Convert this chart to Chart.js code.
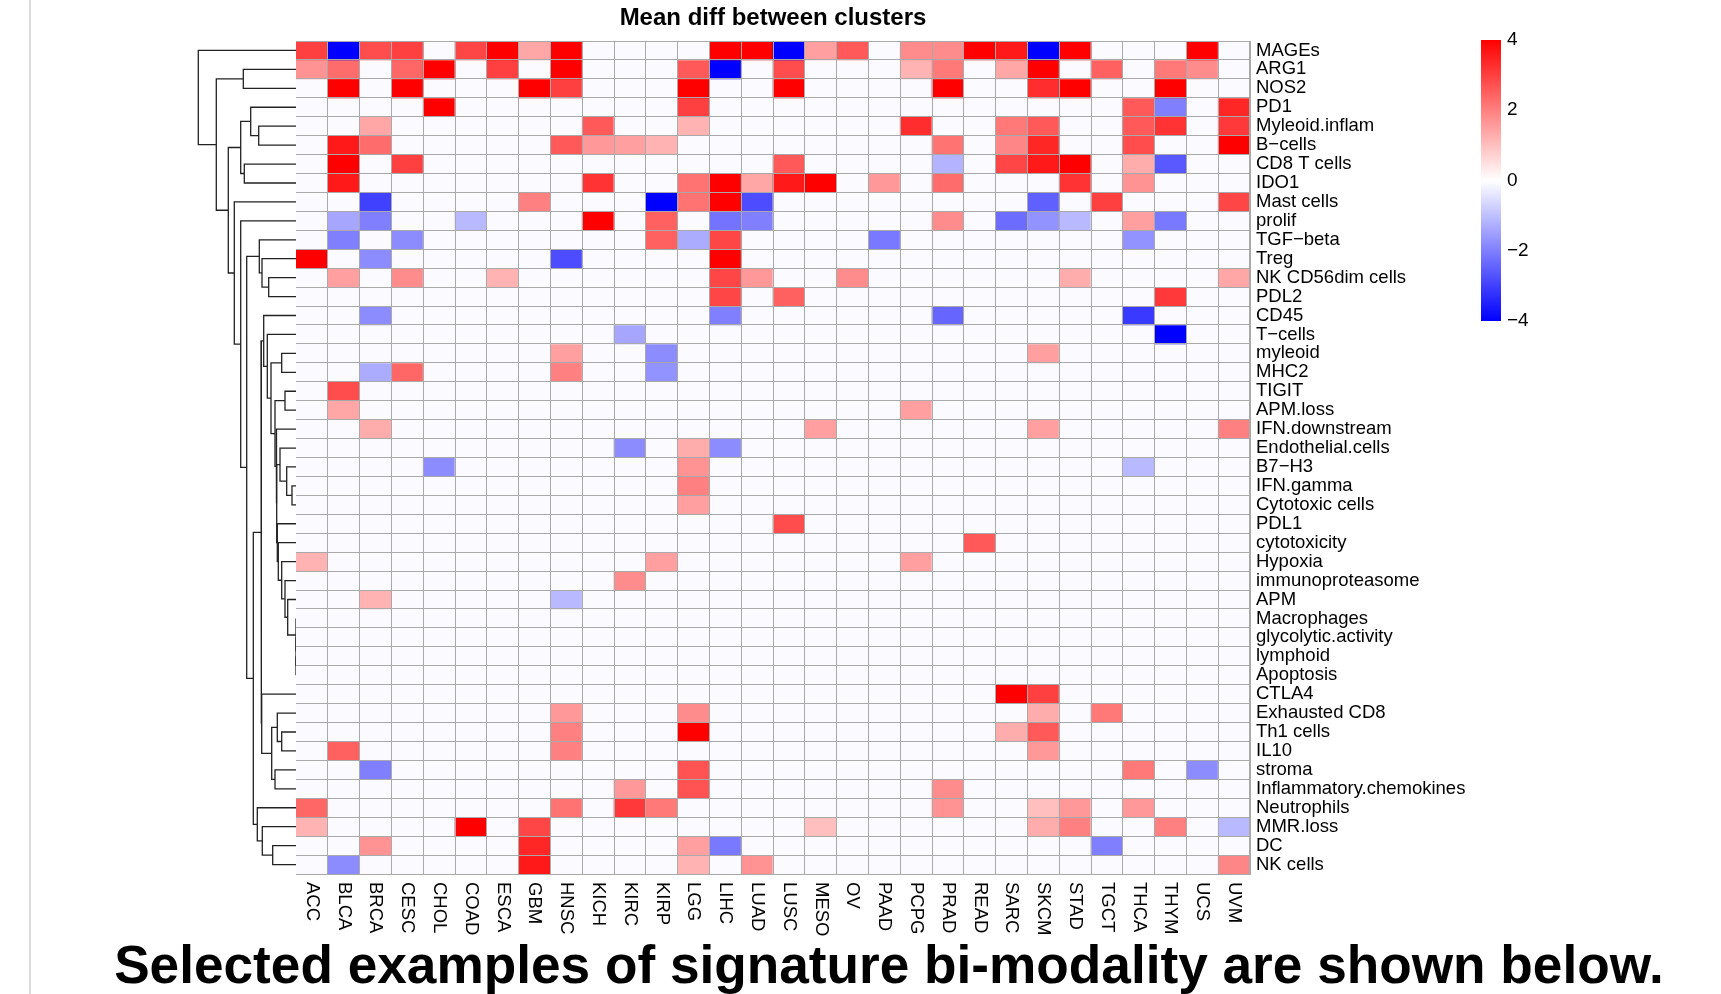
<!DOCTYPE html>
<html>
<head>
<meta charset="utf-8">
<title>Mean diff between clusters</title>
<script src="https://cdn.jsdelivr.net/npm/chart.js@4.4.1/dist/chart.umd.min.js"></script>
<style>
  body { margin: 0; background: #fff; width: 1721px; height: 994px; position: relative; overflow: hidden; }
  canvas { position: absolute; }
  #pageRule { position: absolute; left: 29px; top: 0; width: 2px; height: 994px; background: #dcdcdc; }
  #caption {
    position: absolute; left: 0; top: 938px; width: 1778px; text-align: center;
    font: bold 53.2px "Liberation Sans", Arial, sans-serif; line-height: 53px; color: #000; white-space: nowrap;
  }
</style>
</head>
<body>
<div id="pageRule"></div>
<canvas id="dendro" width="108" height="833" style="left:190px;top:41px"></canvas>
<canvas id="heatmap" width="1204" height="944" style="left:296px;top:0px"></canvas>
<canvas id="scaleBar" width="70" height="301" style="left:1481px;top:30px"></canvas>
<div id="caption">Selected examples of signature bi-modality are shown below.</div>

<script>
// Columns (cancer types)
const cancerTypes = ['ACC', 'BLCA', 'BRCA', 'CESC', 'CHOL', 'COAD', 'ESCA', 'GBM', 'HNSC', 'KICH',
  'KIRC', 'KIRP', 'LGG', 'LIHC', 'LUAD', 'LUSC', 'MESO', 'OV', 'PAAD', 'PCPG',
  'PRAD', 'READ', 'SARC', 'SKCM', 'STAD', 'TGCT', 'THCA', 'THYM', 'UCS', 'UVM'];

// Rows (signatures), in dendrogram order
const signatures = ['MAGEs', 'ARG1', 'NOS2', 'PD1', 'Myleoid.inflam', 'B\u2212cells', 'CD8 T cells', 'IDO1',
  'Mast cells', 'prolif', 'TGF\u2212beta', 'Treg', 'NK CD56dim cells', 'PDL2', 'CD45', 'T\u2212cells',
  'myleoid', 'MHC2', 'TIGIT', 'APM.loss', 'IFN.downstream', 'Endothelial.cells', 'B7\u2212H3', 'IFN.gamma',
  'Cytotoxic cells', 'PDL1', 'cytotoxicity', 'Hypoxia', 'immunoproteasome', 'APM', 'Macrophages',
  'glycolytic.activity', 'lymphoid', 'Apoptosis', 'CTLA4', 'Exhausted CD8', 'Th1 cells', 'IL10', 'stroma',
  'Inflammatory.chemokines', 'Neutrophils', 'MMR.loss', 'DC', 'NK cells'];

// Mean difference per signature (row) and cancer type (column)
const diffValues = [
  [3, -4, 2.8, 3, 0, 2.9, 4, 1.4, 4, 0, 0, 0, 0, 4, 4, -4, 1.5, 2.6, 0, 1.8, 1.8, 4, 3.6, -4, 4, 0, 0, 0, 4, 0],
  [1.7, 2.3, 0, 2.4, 4, 0, 3, 0, 4, 0, 0, 0, 2.6, -4, 0, 2.8, 0, 0, 0, 1.2, 2.1, 0, 1.4, 4, 0, 2.5, 0, 2.1, 1.8, 0],
  [0, 4, 0, 4, 0, 0, 0, 4, 3, 0, 0, 0, 4, 0, 0, 4, 0, 0, 0, 0, 4, 0, 0, 3.3, 4, 0, 0, 4, 0, 0],
  [0, 0, 0, 0, 4, 0, 0, 0, 0, 0, 0, 0, 3, 0, 0, 0, 0, 0, 0, 0, 0, 0, 0, 0, 0, 0, 2.6, -2, 0, 3.4],
  [0, 0, 1.4, 0, 0, 0, 0, 0, 0, 2.6, 0, 0, 1.2, 0, 0, 0, 0, 0, 0, 3.3, 0, 0, 2.1, 2.6, 0, 0, 2.6, 3.2, 0, 3.1],
  [0, 3.6, 2.3, 0, 0, 0, 0, 0, 2.6, 1.6, 1.5, 1.2, 0, 0, 0, 0, 0, 0, 0, 0, 2.2, 0, 1.9, 3.4, 0, 0, 2.8, 0, 0, 4],
  [0, 4, 0, 3, 0, 0, 0, 0, 0, 0, 0, 0, 0, 0, 0, 2.6, 0, 0, 0, 0, -1.2, 0, 2.9, 3.6, 4, 0, 1.3, -2.6, 0, 0],
  [0, 3.6, 0, 0, 0, 0, 0, 0, 0, 3.2, 0, 0, 2.2, 4, 1.4, 3.6, 4, 0, 1.6, 0, 2.3, 0, 0, 0, 3.2, 0, 1.7, 0, 0, 0],
  [0, 0, -3, 0, 0, 0, 0, 2, 0, 0, 0, -4, 2.2, 4, -2.8, 0, 0, 0, 0, 0, 0, 0, 0, -2.5, 0, 3, 0, 0, 0, 2.9],
  [0, -1.4, -2, 0, 0, -1.1, 0, 0, 0, 4, 0, 2.5, 0, -2.2, -2, 0, 0, 0, 0, 0, 1.8, 0, -2.3, -1.7, -1.1, 0, 1.5, -2.1, 0, 0],
  [0, -2, 0, -1.8, 0, 0, 0, 0, 0, 0, 0, 2.5, -1.3, 2.9, 0, 0, 0, 0, -2.1, 0, 0, 0, 0, 0, 0, 0, -1.7, 0, 0, 0],
  [4, 0, -1.8, 0, 0, 0, 0, 0, -2.8, 0, 0, 0, 0, 4, 0, 0, 0, 0, 0, 0, 0, 0, 0, 0, 0, 0, 0, 0, 0, 0],
  [0, 1.5, 0, 1.8, 0, 0, 1.2, 0, 0, 0, 0, 0, 0, 2.9, 1.6, 0, 0, 1.8, 0, 0, 0, 0, 0, 0, 1.3, 0, 0, 0, 0, 1.4],
  [0, 0, 0, 0, 0, 0, 0, 0, 0, 0, 0, 0, 0, 2.9, 0, 2.5, 0, 0, 0, 0, 0, 0, 0, 0, 0, 0, 0, 3.1, 0, 0],
  [0, 0, -1.8, 0, 0, 0, 0, 0, 0, 0, 0, 0, 0, -2, 0, 0, 0, 0, 0, 0, -2.4, 0, 0, 0, 0, 0, -3.1, 0, 0, 0],
  [0, 0, 0, 0, 0, 0, 0, 0, 0, 0, -1.4, 0, 0, 0, 0, 0, 0, 0, 0, 0, 0, 0, 0, 0, 0, 0, 0, -4, 0, 0],
  [0, 0, 0, 0, 0, 0, 0, 0, 1.5, 0, 0, -1.8, 0, 0, 0, 0, 0, 0, 0, 0, 0, 0, 0, 1.5, 0, 0, 0, 0, 0, 0],
  [0, 0, -1.3, 2.4, 0, 0, 0, 0, 2, 0, 0, -1.7, 0, 0, 0, 0, 0, 0, 0, 0, 0, 0, 0, 0, 0, 0, 0, 0, 0, 0],
  [0, 2.8, 0, 0, 0, 0, 0, 0, 0, 0, 0, 0, 0, 0, 0, 0, 0, 0, 0, 0, 0, 0, 0, 0, 0, 0, 0, 0, 0, 0],
  [0, 1.4, 0, 0, 0, 0, 0, 0, 0, 0, 0, 0, 0, 0, 0, 0, 0, 0, 0, 1.5, 0, 0, 0, 0, 0, 0, 0, 0, 0, 0],
  [0, 0, 1.3, 0, 0, 0, 0, 0, 0, 0, 0, 0, 0, 0, 0, 0, 1.5, 0, 0, 0, 0, 0, 0, 1.5, 0, 0, 0, 0, 0, 2],
  [0, 0, 0, 0, 0, 0, 0, 0, 0, 0, -1.8, 0, 1.3, -1.8, 0, 0, 0, 0, 0, 0, 0, 0, 0, 0, 0, 0, 0, 0, 0, 0],
  [0, 0, 0, 0, -1.8, 0, 0, 0, 0, 0, 0, 0, 1.7, 0, 0, 0, 0, 0, 0, 0, 0, 0, 0, 0, 0, 0, -1.1, 0, 0, 0],
  [0, 0, 0, 0, 0, 0, 0, 0, 0, 0, 0, 0, 2, 0, 0, 0, 0, 0, 0, 0, 0, 0, 0, 0, 0, 0, 0, 0, 0, 0],
  [0, 0, 0, 0, 0, 0, 0, 0, 0, 0, 0, 0, 1.5, 0, 0, 0, 0, 0, 0, 0, 0, 0, 0, 0, 0, 0, 0, 0, 0, 0],
  [0, 0, 0, 0, 0, 0, 0, 0, 0, 0, 0, 0, 0, 0, 0, 2.8, 0, 0, 0, 0, 0, 0, 0, 0, 0, 0, 0, 0, 0, 0],
  [0, 0, 0, 0, 0, 0, 0, 0, 0, 0, 0, 0, 0, 0, 0, 0, 0, 0, 0, 0, 0, 2.6, 0, 0, 0, 0, 0, 0, 0, 0],
  [1.2, 0, 0, 0, 0, 0, 0, 0, 0, 0, 0, 1.5, 0, 0, 0, 0, 0, 0, 0, 1.5, 0, 0, 0, 0, 0, 0, 0, 0, 0, 0],
  [0, 0, 0, 0, 0, 0, 0, 0, 0, 0, 1.8, 0, 0, 0, 0, 0, 0, 0, 0, 0, 0, 0, 0, 0, 0, 0, 0, 0, 0, 0],
  [0, 0, 1.2, 0, 0, 0, 0, 0, -1.1, 0, 0, 0, 0, 0, 0, 0, 0, 0, 0, 0, 0, 0, 0, 0, 0, 0, 0, 0, 0, 0],
  [0, 0, 0, 0, 0, 0, 0, 0, 0, 0, 0, 0, 0, 0, 0, 0, 0, 0, 0, 0, 0, 0, 0, 0, 0, 0, 0, 0, 0, 0],
  [0, 0, 0, 0, 0, 0, 0, 0, 0, 0, 0, 0, 0, 0, 0, 0, 0, 0, 0, 0, 0, 0, 0, 0, 0, 0, 0, 0, 0, 0],
  [0, 0, 0, 0, 0, 0, 0, 0, 0, 0, 0, 0, 0, 0, 0, 0, 0, 0, 0, 0, 0, 0, 0, 0, 0, 0, 0, 0, 0, 0],
  [0, 0, 0, 0, 0, 0, 0, 0, 0, 0, 0, 0, 0, 0, 0, 0, 0, 0, 0, 0, 0, 0, 0, 0, 0, 0, 0, 0, 0, 0],
  [0, 0, 0, 0, 0, 0, 0, 0, 0, 0, 0, 0, 0, 0, 0, 0, 0, 0, 0, 0, 0, 0, 4, 3, 0, 0, 0, 0, 0, 0],
  [0, 0, 0, 0, 0, 0, 0, 0, 1.6, 0, 0, 0, 1.8, 0, 0, 0, 0, 0, 0, 0, 0, 0, 0, 1.3, 0, 2.1, 0, 0, 0, 0],
  [0, 0, 0, 0, 0, 0, 0, 0, 2, 0, 0, 0, 4, 0, 0, 0, 0, 0, 0, 0, 0, 0, 1.3, 2.6, 0, 0, 0, 0, 0, 0],
  [0, 2.5, 0, 0, 0, 0, 0, 0, 2, 0, 0, 0, 0, 0, 0, 0, 0, 0, 0, 0, 0, 0, 0, 1.6, 0, 0, 0, 0, 0, 0],
  [0, 0, -2, 0, 0, 0, 0, 0, 0, 0, 0, 0, 2.7, 0, 0, 0, 0, 0, 0, 0, 0, 0, 0, 0, 0, 0, 2.1, 0, -1.8, 0],
  [0, 0, 0, 0, 0, 0, 0, 0, 0, 0, 1.6, 0, 2.7, 0, 0, 0, 0, 0, 0, 0, 1.8, 0, 0, 0, 0, 0, 0, 0, 0, 0],
  [2.4, 0, 0, 0, 0, 0, 0, 0, 2.2, 0, 3.1, 2.1, 0, 0, 0, 0, 0, 0, 0, 0, 1.7, 0, 0, 1, 1.6, 0, 1.6, 0, 0, 0],
  [1.2, 0, 0, 0, 0, 4, 0, 2.9, 0, 0, 0, 0, 0, 0, 0, 0, 1, 0, 0, 0, 0, 0, 0, 1.3, 2, 0, 0, 2, 0, -1.1],
  [0, 0, 1.7, 0, 0, 0, 0, 3.4, 0, 0, 0, 0, 1.5, -2.1, 0, 0, 0, 0, 0, 0, 0, 0, 0, 0, 0, -2, 0, 0, 0, 0],
  [0, -1.8, 0, 0, 0, 0, 0, 3.6, 0, 0, 0, 0, 1.2, 0, 1.7, 0, 0, 0, 0, 0, 0, 0, 0, 0, 0, 0, 0, 0, 0, 1.9]
];

// Row dendrogram, hclust style: negative = leaf (row number, 1-based), positive = earlier merge
const mergeLeft = [-24, -23, -22, -33, -32, -31, -30, -29, -28, -27, -26, 3, -21, -19, 14, -17, 16, -16, -15,
  -37, -36, -39, 21, -35, 19, -43, -42, -41, 25, -13, -12, -11, 32, -10, -9, -5, -4, -7, 37, 39, -2, 41, -1];
const mergeRight = [-25, 1, 2, -34, 4, 5, 6, 7, 8, 9, 10, 11, 12, -20, 13, -18, 15, 17, 18,
  -38, 20, -40, 22, 23, 24, -44, 26, 27, 28, -14, 30, 31, 29, 33, 34, -6, 36, -8, 38, 35, -3, 40, 42];
const mergeHeight = [4, 9.3, 16, 0, 0, 0, 8.3, 11, 14.3, 17.7, 18.7, 19.3, 19.7, 11, 21, 14.3, 25, 28.7, 32.3,
  14.3, 18.7, 21, 24.3, 34.3, 35, 23.3, 33.7, 38.7, 42.7, 27.3, 34, 36.7, 49.3, 55.3, 61.7, 37.3, 45.3, 51.7,
  55.3, 67.7, 52.7, 79.7, 97.7];

// Colour key ticks
const keyTicks = [-4, -2, 0, 2, 4];

const FONT = '"Liberation Sans", Arial, sans-serif';
Chart.defaults.font.family = FONT;
Chart.defaults.color = '#000';

const GRID_COLOR = '#a9a9a9';

function valueToColor(v) {
  const t = Math.min(Math.abs(v) / 4, 1);
  const c = Math.round(255 * (1 - t));
  if (v > 0) return `rgb(255,${c},${c})`;
  if (v < 0) return `rgb(${c},${c},255)`;
  return 'rgb(251,251,255)';
}

// Draw column labels rotated clockwise under the grid
const columnLabels = {
  id: 'columnLabels',
  afterDraw(chart) {
    const xs = chart.scales.x;
    const ctx = chart.ctx;
    ctx.save();
    ctx.font = '18.5px ' + FONT;
    ctx.fillStyle = '#000';
    ctx.textAlign = 'left';
    ctx.textBaseline = 'middle';
    cancerTypes.forEach((label, i) => {
      ctx.save();
      ctx.translate(xs.getPixelForTick(i), chart.chartArea.bottom + 8);
      ctx.rotate(Math.PI / 2);
      ctx.fillText(label, 0, 0);
      ctx.restore();
    });
    ctx.restore();
  }
};

function initializeHeatmap() {
  const ctx = document.getElementById('heatmap').getContext('2d');
  new Chart(ctx, {
    type: 'bar',
    data: {
      labels: cancerTypes,
      datasets: signatures.map((name, r) => ({
        label: name,
        data: cancerTypes.map(() => [r, r + 1]),
        backgroundColor: diffValues[r].map(valueToColor),
        borderWidth: 0,
        barPercentage: 1,
        categoryPercentage: 1,
        grouped: false,
        xAxisID: 'x',
        yAxisID: 'yv'
      }))
    },
    options: {
      responsive: false,
      animation: false,
      layout: { padding: 0 },
      plugins: {
        legend: { display: false },
        tooltip: { enabled: false },
        title: {
          display: true,
          text: 'Mean diff between clusters',
          fullSize: false,
          color: '#000',
          font: { size: 24, weight: 'bold' },
          padding: { top: 4, bottom: 8.2 }
        }
      },
      scales: {
        x: {
          type: 'category',
          position: 'bottom',
          offset: true,
          grid: { offset: true, color: GRID_COLOR, lineWidth: 1, drawTicks: false, z: 1 },
          border: { color: GRID_COLOR, z: 1 },
          ticks: { display: false },
          afterFit(scale) { scale.height = 70; }
        },
        y: {
          type: 'category',
          axis: 'y',
          position: 'right',
          labels: signatures,
          offset: true,
          grid: { offset: true, color: GRID_COLOR, lineWidth: 1, drawTicks: false, z: 1 },
          border: { color: GRID_COLOR, z: 1 },
          ticks: { autoSkip: false, padding: 6, color: '#000', font: { size: 18.5 } },
          afterFit(scale) {
            scale.width = 250;
            scale.paddingTop = 0;
            scale.paddingBottom = 0;
          }
        },
        yv: {
          type: 'linear',
          axis: 'y',
          display: false,
          min: 0,
          max: signatures.length,
          reverse: true
        }
      }
    },
    plugins: [columnLabels]
  });
}

function initializeDendrogram() {
  const ctx = document.getElementById('dendro').getContext('2d');
  const nodePos = [];
  const leafPos = id => (id < 0 ? -id - 1 + 0.5 : nodePos[id - 1]);
  const nodeH = id => (id < 0 ? 0 : mergeHeight[id - 1]);

  const datasets = mergeLeft.map((a, k) => {
    const b = mergeRight[k];
    const h = mergeHeight[k];
    const ya = leafPos(a);
    const yb = leafPos(b);
    nodePos[k] = (ya + yb) / 2;
    return {
      data: [
        { x: nodeH(a), y: ya },
        { x: h, y: ya },
        { x: h, y: yb },
        { x: nodeH(b), y: yb }
      ],
      showLine: true,
      borderColor: '#222',
      borderWidth: 1.3,
      pointRadius: 0,
      tension: 0,
      fill: false,
      clip: false
    };
  });

  new Chart(ctx, {
    type: 'scatter',
    data: { datasets },
    options: {
      responsive: false,
      animation: false,
      layout: { padding: 0 },
      plugins: { legend: { display: false }, tooltip: { enabled: false } },
      scales: {
        x: { type: 'linear', display: false, min: -2, max: 106, reverse: true },
        y: { type: 'linear', display: false, min: 0, max: signatures.length, reverse: true }
      }
    }
  });
}

function initializeScaleBar() {
  const ctx = document.getElementById('scaleBar').getContext('2d');
  new Chart(ctx, {
    type: 'bar',
    data: {
      labels: ['key'],
      datasets: [{
        data: [[keyTicks[0], keyTicks[keyTicks.length - 1]]],
        barPercentage: 1,
        categoryPercentage: 1,
        borderWidth: 0,
        backgroundColor(context) {
          const area = context.chart.chartArea;
          if (!area) return 'rgba(0,0,0,0)';
          const g = context.chart.ctx.createLinearGradient(0, area.bottom, 0, area.top);
          g.addColorStop(0, 'rgb(0,0,255)');
          g.addColorStop(0.5, 'rgb(255,255,255)');
          g.addColorStop(1, 'rgb(255,0,0)');
          return g;
        }
      }]
    },
    options: {
      responsive: false,
      animation: false,
      layout: { padding: { top: 10, bottom: 10, left: 0, right: 0 } },
      plugins: { legend: { display: false }, tooltip: { enabled: false } },
      scales: {
        x: { display: false },
        y: {
          position: 'right',
          min: keyTicks[0],
          max: keyTicks[keyTicks.length - 1],
          grid: { display: false, drawTicks: false },
          border: { display: false },
          afterBuildTicks(scale) { scale.ticks = keyTicks.map(v => ({ value: v })); },
          ticks: {
            padding: 6,
            color: '#000',
            font: { size: 19 },
            callback: v => (v < 0 ? '\u2212' + Math.abs(v) : String(v))
          },
          afterFit(scale) {
            scale.width = 50;
            scale.paddingTop = 0;
            scale.paddingBottom = 0;
          }
        }
      }
    }
  });
}

initializeDendrogram();
initializeHeatmap();
initializeScaleBar();
</script>
</body>
</html>
